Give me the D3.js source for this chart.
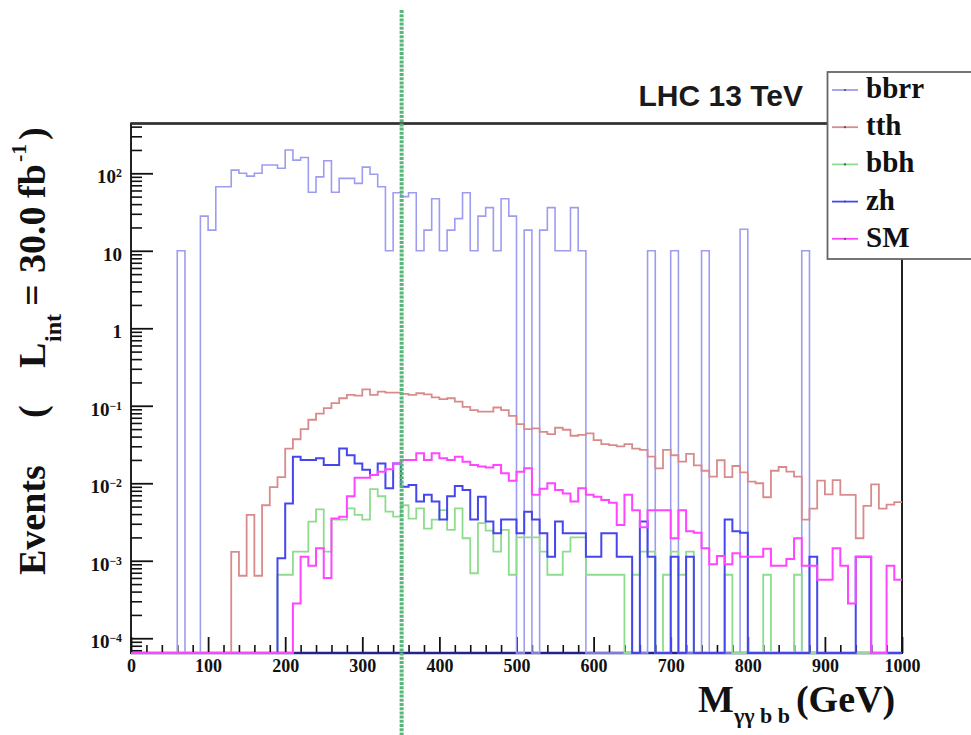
<!DOCTYPE html>
<html>
<head>
<meta charset="utf-8">
<script src="https://cdn.jsdelivr.net/npm/d3@7"></script>
<style>
  body { margin: 0; background: #fff; }
  svg { display: block; }
</style>
</head>
<body>
<div id="chart"></div>
<script>
// Histogram contents, 10 GeV bins from 0 to 1000 GeV (zero = empty bin)
const binWidth = 10;

const bbrr = [
  0, 0, 0, 0, 0, 0, 10, 0, 0, 28,
  18.5, 67, 67, 110, 100, 92, 100, 128, 128, 116,
  200, 148, 160, 57, 90, 145, 57, 86, 86, 74,
  120, 97, 67, 10, 56, 50, 56, 10, 18.5, 47,
  10, 18.5, 26, 56, 10, 28, 36, 10, 47, 28,
  0, 18.5, 0, 18.5, 36, 10, 10, 36, 10, 0,
  0, 0, 0, 0, 0, 0, 0, 10, 0, 0,
  10, 0, 0, 0, 10, 0, 0, 0, 0, 19,
  0, 0, 0, 0, 0, 0, 0, 10, 0, 0,
  0, 0, 0, 0, 0, 0, 0, 0, 0, 0
];

const tth = [
  0, 0, 0, 0, 0, 0, 0, 0, 0, 0,
  0, 0, 0, 0.0013, 0.00064, 0.0039, 0.00064, 0.0052, 0.0089, 0.012,
  0.028, 0.037, 0.050, 0.066, 0.079, 0.093, 0.108, 0.125, 0.138, 0.135,
  0.163, 0.138, 0.152, 0.148, 0.148, 0.142, 0.138, 0.145, 0.140, 0.128,
  0.122, 0.125, 0.113, 0.097, 0.088, 0.084, 0.084, 0.095, 0.088, 0.074,
  0.058, 0.050, 0.051, 0.046, 0.043, 0.052, 0.049, 0.041, 0.042, 0.044,
  0.036, 0.032, 0.031, 0.030, 0.032, 0.028, 0.027, 0.022, 0.0156, 0.027,
  0.023, 0.019, 0.024, 0.017, 0.0145, 0.0122, 0.0198, 0.012, 0.0167, 0.0138,
  0.0105, 0.0100, 0.0066, 0.0145, 0.0162, 0.0141, 0.0122, 0.0034, 0.0047, 0.0108,
  0.0072, 0.011, 0.0071, 0.0071, 0.00195, 0.0051, 0.0097, 0.0047, 0.0053, 0.0057
];

const bbh = [
  0, 0, 0, 0, 0, 0, 0, 0, 0, 0,
  0, 0, 0, 0, 0, 0, 0, 0, 0, 0.00066,
  0.00066, 0.00131, 0.00131, 0.0032, 0.0046, 0.00131, 0.0034, 0.0034, 0.00475, 0.0039,
  0.0034, 0.0084, 0.0068, 0.0043, 0.0037, 0.0052, 0.0035, 0.00475, 0.0026, 0.0034,
  0.0045, 0.0025, 0.00475, 0.00195, 0.00069, 0.00305, 0.00245, 0.00131, 0.0025, 0.00066,
  0.002, 0.002, 0.002, 0.00131, 0.00066, 0.00066, 0.00131, 0.002, 0.002, 0.00066,
  0.00066, 0.00066, 0.00066, 0.00066, 0, 0.00066, 0.00131, 0.00131, 0, 0.00066,
  0.00131, 0.00066, 0.00131, 0, 0, 0, 0, 0.00066, 0, 0,
  0, 0, 0.00066, 0, 0, 0, 0.00066, 0, 0, 0,
  0, 0, 0, 0, 0, 0, 0, 0, 0, 0
];

const zh = [
  0, 0, 0, 0, 0, 0, 0, 0, 0, 0,
  0, 0, 0, 0, 0, 0, 0, 0, 0, 0.00108,
  0.0055, 0.022, 0.020, 0.020, 0.021, 0.0172, 0.0172, 0.028, 0.023, 0.018,
  0.0149, 0.0128, 0.018, 0.0086, 0.018, 0.009, 0.0095, 0.0058, 0.0071, 0.0058,
  0.0034, 0.0068, 0.0092, 0.0082, 0.0034, 0.0067, 0.0032, 0.00226, 0.0034, 0.0034,
  0.00226, 0.0043, 0.0034, 0.00226, 0.00113, 0.0032, 0.00226, 0.00226, 0.00226, 0.00113,
  0.00113, 0.00226, 0.00226, 0.00113, 0.00113, 0, 0.0032, 0.00113, 0, 0,
  0.00113, 0, 0.00113, 0, 0, 0, 0, 0.0034, 0.0024, 0.0023,
  0, 0, 0, 0, 0, 0, 0, 0, 0.00113, 0,
  0, 0, 0, 0, 0.00113, 0.00113, 0, 0, 0, 0
];

const sm = [
  0, 0, 0, 0, 0, 0, 0, 0, 0, 0,
  0, 0, 0, 0, 0, 0, 0, 0, 0, 0,
  0, 0.00028, 0.00113, 0.00086, 0.00145, 0.0006, 0.0035, 0.0037, 0.0068, 0.0118,
  0.0118, 0.0128, 0.0141, 0.0152, 0.018, 0.020, 0.020, 0.0244, 0.020, 0.0244,
  0.021, 0.020, 0.022, 0.019, 0.0172, 0.0164, 0.016, 0.0172, 0.0135, 0.0108,
  0.0141, 0.0156, 0.0071, 0.0085, 0.0100, 0.0082, 0.0074, 0.0058, 0.0086, 0.0071,
  0.0067, 0.0061, 0.0056, 0.0029, 0.0071, 0.0045, 0.0027, 0.0045, 0.0045, 0.0045,
  0.00195, 0.0045, 0.0024, 0.0023, 0.00145, 0.0009, 0.00115, 0.0009, 0.00125, 0.00113,
  0.00113, 0.00113, 0.00143, 0.00086, 0.00086, 0.00105, 0.00195, 0.00086, 0.00086, 0.00057,
  0.00057, 0.00145, 0.00086, 0.00028, 0.00113, 0.00113, 0, 0, 0.00086, 0.00057
];

const legendNames = ["bbrr", "tth", "bbh", "zh", "SM"];
const xTicks = [0, 100, 200, 300, 400, 500, 600, 700, 800, 900, 1000];
const yTicks = [1e-4, 1e-3, 1e-2, 1e-1, 1, 10, 100];
const cutMass = 351;

const series = [
  { name: "bbrr", values: bbrr, color: "#9d9df0", width: 1.6 },
  { name: "tth",  values: tth,  color: "#d98b8b", width: 1.8 },
  { name: "bbh",  values: bbh,  color: "#8edc8e", width: 1.8 },
  { name: "zh",   values: zh,   color: "#4646ee", width: 2 },
  { name: "SM",   values: sm,   color: "#ff45ff", width: 2 }
];

const W = 971, H = 735;
const frame = { left: 131, right: 902, top: 123.5, bottom: 653 };
const serif = "'Liberation Serif', 'Times New Roman', serif";
const sans = "'Liberation Sans', Arial, sans-serif";

const svg = d3.select("#chart")
  .append("svg")
  .attr("width", W)
  .attr("height", H)
  .style("background", "#fff");

const x = d3.scaleLinear().domain([0, 1000]).range([frame.left, frame.right]);
const yMin = 6.45e-5, yMax = 439;
const y = d3.scaleLog().domain([yMin, yMax]).range([frame.bottom, frame.top]).clamp(true);

// frame
svg.append("rect")
  .attr("x", frame.left).attr("y", frame.top)
  .attr("width", frame.right - frame.left).attr("height", frame.bottom - frame.top)
  .attr("fill", "none").attr("stroke", "#222").attr("stroke-width", 2);
svg.append("line")
  .attr("x1", frame.left).attr("x2", frame.right)
  .attr("y1", frame.top).attr("y2", frame.top)
  .attr("stroke", "#333").attr("stroke-width", 2.6);

// minor ticks
const yMinor = [];
for (let e = -5; e <= 2; e++) {
  for (let m = 2; m <= 9; m++) {
    const v = m * Math.pow(10, e);
    if (v > yMin && v < yMax) yMinor.push(v);
  }
}
const xMinor = [];
for (let v = 0; v <= 1000; v += 20) if (v % 100 !== 0) xMinor.push(v);

svg.append("g")
  .attr("transform", `translate(${frame.left},0)`)
  .call(d3.axisLeft(y).tickValues(yMinor).tickSize(-11).tickFormat(""))
  .call(g => g.select(".domain").remove())
  .selectAll("line").attr("stroke", "#111").attr("stroke-width", 1.6);

const yAxis = svg.append("g")
  .attr("transform", `translate(${frame.left},0)`)
  .call(d3.axisLeft(y).tickValues(yTicks).tickSize(-22).tickPadding(9)
    .tickFormat(d => (d === 1 ? "1" : "10")))
  .call(g => g.select(".domain").remove())
  .attr("font-family", serif).attr("font-size", 19).attr("font-weight", "bold");
yAxis.selectAll("line").attr("stroke", "#111").attr("stroke-width", 1.8);
yAxis.selectAll(".tick text")
  .attr("fill", "#111").attr("dy", "0.5em")
  .each(function(d) {
    const e = Math.round(Math.log10(d));
    if (e !== 0 && e !== 1) {
      d3.select(this).append("tspan")
        .attr("dy", "-0.5em").attr("font-size", "0.62em")
        .text(e < 0 ? "\u2212" + (-e) : String(e));
    }
  });

svg.append("g")
  .attr("transform", `translate(0,${frame.bottom})`)
  .call(d3.axisBottom(x).tickValues(xMinor).tickSize(-8).tickFormat(""))
  .call(g => g.select(".domain").remove())
  .selectAll("line").attr("stroke", "#111").attr("stroke-width", 1.6);

const xAxis = svg.append("g")
  .attr("transform", `translate(0,${frame.bottom})`)
  .call(d3.axisBottom(x).tickValues(xTicks).tickSize(-16).tickPadding(6).tickFormat(d3.format("d")))
  .call(g => g.select(".domain").remove())
  .attr("font-family", serif).attr("font-size", 18).attr("font-weight", "bold");
xAxis.selectAll("line").attr("stroke", "#111").attr("stroke-width", 1.8);
xAxis.selectAll("text").attr("fill", "#111");

// bottom edge (empty bins sit on it)
svg.append("line")
  .attr("x1", frame.left).attr("x2", frame.right)
  .attr("y1", frame.bottom).attr("y2", frame.bottom)
  .attr("stroke", "#23238a").attr("stroke-width", 2.6);

// histograms
const step = d3.line()
  .x(d => x(d[0]))
  .y(d => y(d[1] > 0 ? d[1] : yMin))
  .curve(d3.curveStepAfter);

series.forEach(s => {
  const pts = s.values.map((v, i) => [i * binWidth, v]);
  pts.push([s.values.length * binWidth, s.values[s.values.length - 1]]);
  svg.append("path")
    .datum(pts)
    .attr("class", "hist")
    .attr("fill", "none")
    .attr("stroke", s.color)
    .attr("stroke-width", s.width)
    .attr("d", step);
});

// legend
const legend = svg.append("g");
legend.append("rect")
  .attr("x", 827.5).attr("y", 72).attr("width", 160).attr("height", 187)
  .attr("fill", "#fff").attr("stroke", "#666").attr("stroke-width", 1.8);
legend.selectAll(".entry")
  .data(series)
  .enter()
  .append("g")
  .attr("class", "entry")
  .attr("transform", (d, i) => `translate(0, ${90 + i * 37.2})`)
  .each(function(d, i) {
    const g = d3.select(this);
    g.append("line")
      .attr("x1", 832).attr("x2", 858).attr("y1", 0).attr("y2", 0)
      .attr("stroke", d.color).attr("stroke-width", 1.8);
    g.append("circle").attr("cx", 845).attr("cy", 0).attr("r", 1.1).attr("fill", "#555");
    g.append("text")
      .attr("x", 866).attr("y", 8)
      .attr("font-family", serif).attr("font-weight", "bold").attr("font-size", 29)
      .attr("fill", "#111")
      .text(legendNames[i]);
  });

// title
svg.append("text")
  .attr("x", 803).attr("y", 106)
  .attr("text-anchor", "end")
  .attr("font-family", sans).attr("font-weight", "bold").attr("font-size", 30)
  .attr("fill", "#1a1a1a")
  .text("LHC 13 TeV");

// x title
const xt = svg.append("text")
  .attr("x", 698).attr("y", 712)
  .attr("font-family", serif).attr("font-weight", "bold").attr("font-size", 38)
  .attr("fill", "#111");
xt.append("tspan").text("M");
xt.append("tspan").attr("dy", 11).attr("font-size", 22).text("\u03b3\u03b3 b b");
xt.append("tspan").attr("dy", -11).attr("dx", 6).text("(GeV)");

// y title (rotated)
const yt = svg.append("text")
  .attr("transform", "translate(45,0) rotate(-90)")
  .attr("font-family", serif).attr("font-weight", "bold").attr("font-size", 38)
  .attr("fill", "#111");
yt.append("tspan").attr("x", -575).attr("y", 0).text("Events");
yt.append("tspan").attr("x", -418).attr("y", 0).text("(");
yt.append("tspan").attr("x", -368).attr("y", 0).text("L");
yt.append("tspan").attr("x", -342).attr("y", 16).attr("font-size", 24).text("int");
yt.append("tspan").attr("x", -306).attr("y", 0).text("=");
yt.append("tspan").attr("x", -273).attr("y", 0).text("30.0");
yt.append("tspan").attr("x", -198).attr("y", 0).text("fb");
yt.append("tspan").attr("x", -162).attr("y", -19).attr("font-size", 22).text("-1");
yt.append("tspan").attr("x", -140).attr("y", 0).text(")");

// cut line
svg.append("line")
  .attr("x1", x(cutMass)).attr("x2", x(cutMass))
  .attr("y1", 10).attr("y2", H)
  .attr("stroke", "#58b67a").attr("stroke-width", 4)
  .attr("stroke-dasharray", "3,1.2");
</script>
</body>
</html>
